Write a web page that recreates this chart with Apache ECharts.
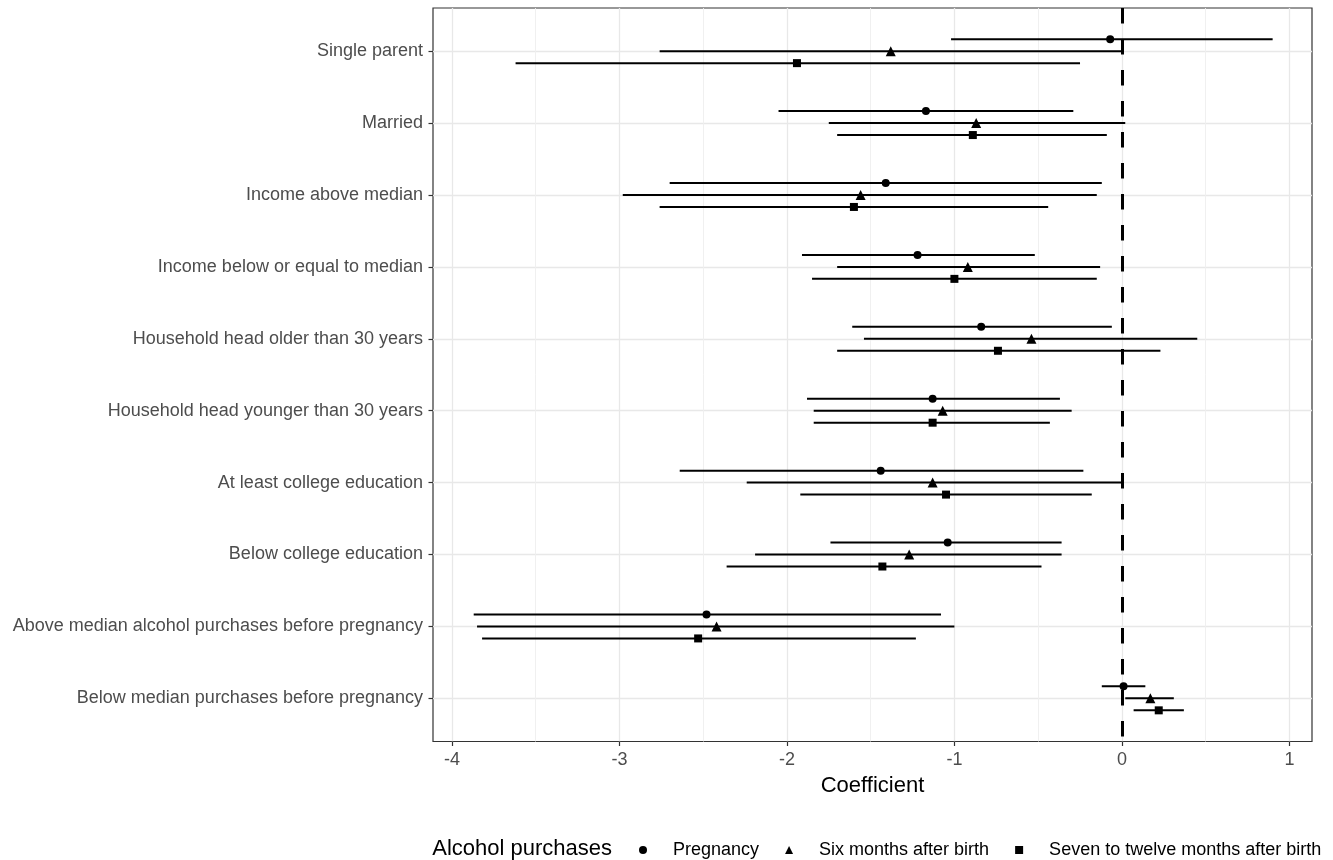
<!DOCTYPE html>
<html>
<head>
<meta charset="utf-8">
<title>Coefficient plot</title>
<script src="https://cdn.jsdelivr.net/npm/echarts@6/dist/echarts.min.js"></script>
<style>
  html, body { margin: 0; padding: 0; background: #fff; }
  #chart { width: 1333px; height: 860px; }
</style>
</head>
<body>
<div id="chart"></div>
<script>
// categories, top to bottom
var categories = [
  'Single parent',
  'Married',
  'Income above median',
  'Income below or equal to median',
  'Household head older than 30 years',
  'Household head younger than 30 years',
  'At least college education',
  'Below college education',
  'Above median alcohol purchases before pregnancy',
  'Below median purchases before pregnancy'
]
var groups = ['Pregnancy', 'Six months after birth', 'Seven to twelve months after birth']
var groupSymbols = ['circle', 'triangle', 'rect']

// estimates and confidence intervals, one value per category
var pregEst = [-0.07, -1.17, -1.41, -1.22, -0.84, -1.13, -1.44, -1.04, -2.48, 0.01]
var pregLow = [-1.02, -2.05, -2.70, -1.91, -1.61, -1.88, -2.64, -1.74, -3.87, -0.12]
var pregHigh = [0.90, -0.29, -0.12, -0.52, -0.06, -0.37, -0.23, -0.36, -1.08, 0.14]

var sixEst = [-1.38, -0.87, -1.56, -0.92, -0.54, -1.07, -1.13, -1.27, -2.42, 0.17]
var sixLow = [-2.76, -1.75, -2.98, -1.70, -1.54, -1.84, -2.24, -2.19, -3.85, 0.02]
var sixHigh = [0.01, 0.02, -0.15, -0.13, 0.45, -0.30, 0.00, -0.36, -1.00, 0.31]

var sevenEst = [-1.94, -0.89, -1.60, -1.00, -0.74, -1.13, -1.05, -1.43, -2.53, 0.22]
var sevenLow = [-3.62, -1.70, -2.76, -1.85, -1.70, -1.84, -1.92, -2.36, -3.82, 0.07]
var sevenHigh = [-0.25, -0.09, -0.44, -0.15, 0.23, -0.43, -0.18, -0.48, -1.23, 0.37]

var xTicks = [-4, -3, -2, -1, 0, 1]
var xMinorTicks = [-3.5, -2.5, -1.5, -0.5, 0.5]
var yTicks = [1, 2, 3, 4, 5, 6, 7, 8, 9, 10]

var FONT = 'Liberation Sans, Arial, Helvetica, sans-serif'
var estimates = [pregEst, sixEst, sevenEst]
var lows = [pregLow, sixLow, sevenLow]
var highs = [pregHigh, sixHigh, sevenHigh]
var dodge = [-1 / 6, 0, 1 / 6] // position_dodge(0.5)
var symbolSizes = [8, 10, 8]

var chart = echarts.init(document.getElementById('chart'))

var series = []
groups.forEach(function(g, gi) {
  var ci = categories.map(function(c, i) {
    return [lows[gi][i], highs[gi][i], i + 1 + dodge[gi]]
  })
  series.push({
    name: 'ci-' + g,
    type: 'custom',
    silent: true,
    data: ci,
    encode: { x: [0, 1], y: 2 },
    renderItem: function(params, api) {
      var y = api.value(2)
      var a = api.coord([api.value(0), y])
      var b = api.coord([api.value(1), y])
      return {
        type: 'line',
        shape: { x1: a[0], y1: a[1], x2: b[0], y2: b[1] },
        style: { stroke: '#000', lineWidth: 2 }
      }
    },
    z: 3
  })
  series.push({
    name: g,
    type: 'scatter',
    symbol: groupSymbols[gi],
    symbolSize: symbolSizes[gi],
    itemStyle: { color: '#000', opacity: 1 },
    data: categories.map(function(c, i) {
      return [estimates[gi][i], i + 1 + dodge[gi]]
    }),
    z: 4
  })
})

// dashed reference line at zero
series.push({
  name: 'zero',
  type: 'scatter',
  data: [],
  markLine: {
    silent: true,
    symbol: 'none',
    label: { show: false },
    lineStyle: { color: '#000', width: 3, type: [15.5, 15.5], opacity: 1 },
    data: [{ xAxis: 0 }]
  },
  z: 5
})

chart.setOption({
  animation: false,
  grid: {
    left: 433,
    top: 8,
    width: 879,
    height: 733.5,
    show: true,
    borderColor: '#333',
    borderWidth: 1.2,
    backgroundColor: 'transparent'
  },
  graphic: [{
    type: 'text',
    x: 612,
    y: 848.5,
    style: {
      text: 'Alcohol purchases',
      fontSize: 22,
      fontFamily: FONT,
      fill: '#000',
      align: 'right',
      verticalAlign: 'middle'
    }
  }],
  legend: {
    left: 634,
    top: 836,
    orient: 'horizontal',
    itemWidth: 8,
    itemHeight: 8,
    itemGap: 26,
    selectedMode: false,
    textStyle: { fontSize: 18, fontFamily: FONT, color: '#000', padding: [0, 0, 0, 21] },
    data: groups.map(function(g, gi) {
      return { name: g, icon: groupSymbols[gi] }
    })
  },
  xAxis: [{
    type: 'value',
    min: -4.113,
    max: 1.135,
    name: 'Coefficient',
    nameLocation: 'middle',
    nameGap: 33,
    nameTextStyle: { fontSize: 22, fontFamily: FONT, color: '#000' },
    axisLine: { show: false, onZero: false },
    axisTick: { show: true, length: 4.5, customValues: xTicks, lineStyle: { color: '#333', width: 1.2 } },
    axisLabel: { customValues: xTicks, margin: 10, fontSize: 18, fontFamily: FONT, color: '#4d4d4d' },
    splitLine: { show: true, lineStyle: { color: '#e8e8e8', width: 1.3 } }
  }, {
    type: 'value',
    min: -4.113,
    max: 1.135,
    axisLine: { show: false, onZero: false },
    axisTick: { show: false, customValues: xMinorTicks },
    axisLabel: { show: false, customValues: xMinorTicks },
    splitLine: { show: true, lineStyle: { color: '#eeeeee', width: 0.9 } }
  }],
  yAxis: {
    type: 'value',
    inverse: true,
    min: 0.4,
    max: 10.6,
    axisLine: { show: false, onZero: false },
    axisTick: { show: true, length: 4.5, customValues: yTicks, lineStyle: { color: '#333', width: 1.2 } },
    axisLabel: {
      customValues: yTicks,
      margin: 10,
      fontSize: 18,
      fontFamily: FONT,
      color: '#4d4d4d',
      formatter: function(v) { return categories[Math.round(v) - 1] }
    },
    splitLine: { show: true, lineStyle: { color: '#e8e8e8', width: 1.3 } }
  },
  series: series
})
</script>
</body>
</html>
